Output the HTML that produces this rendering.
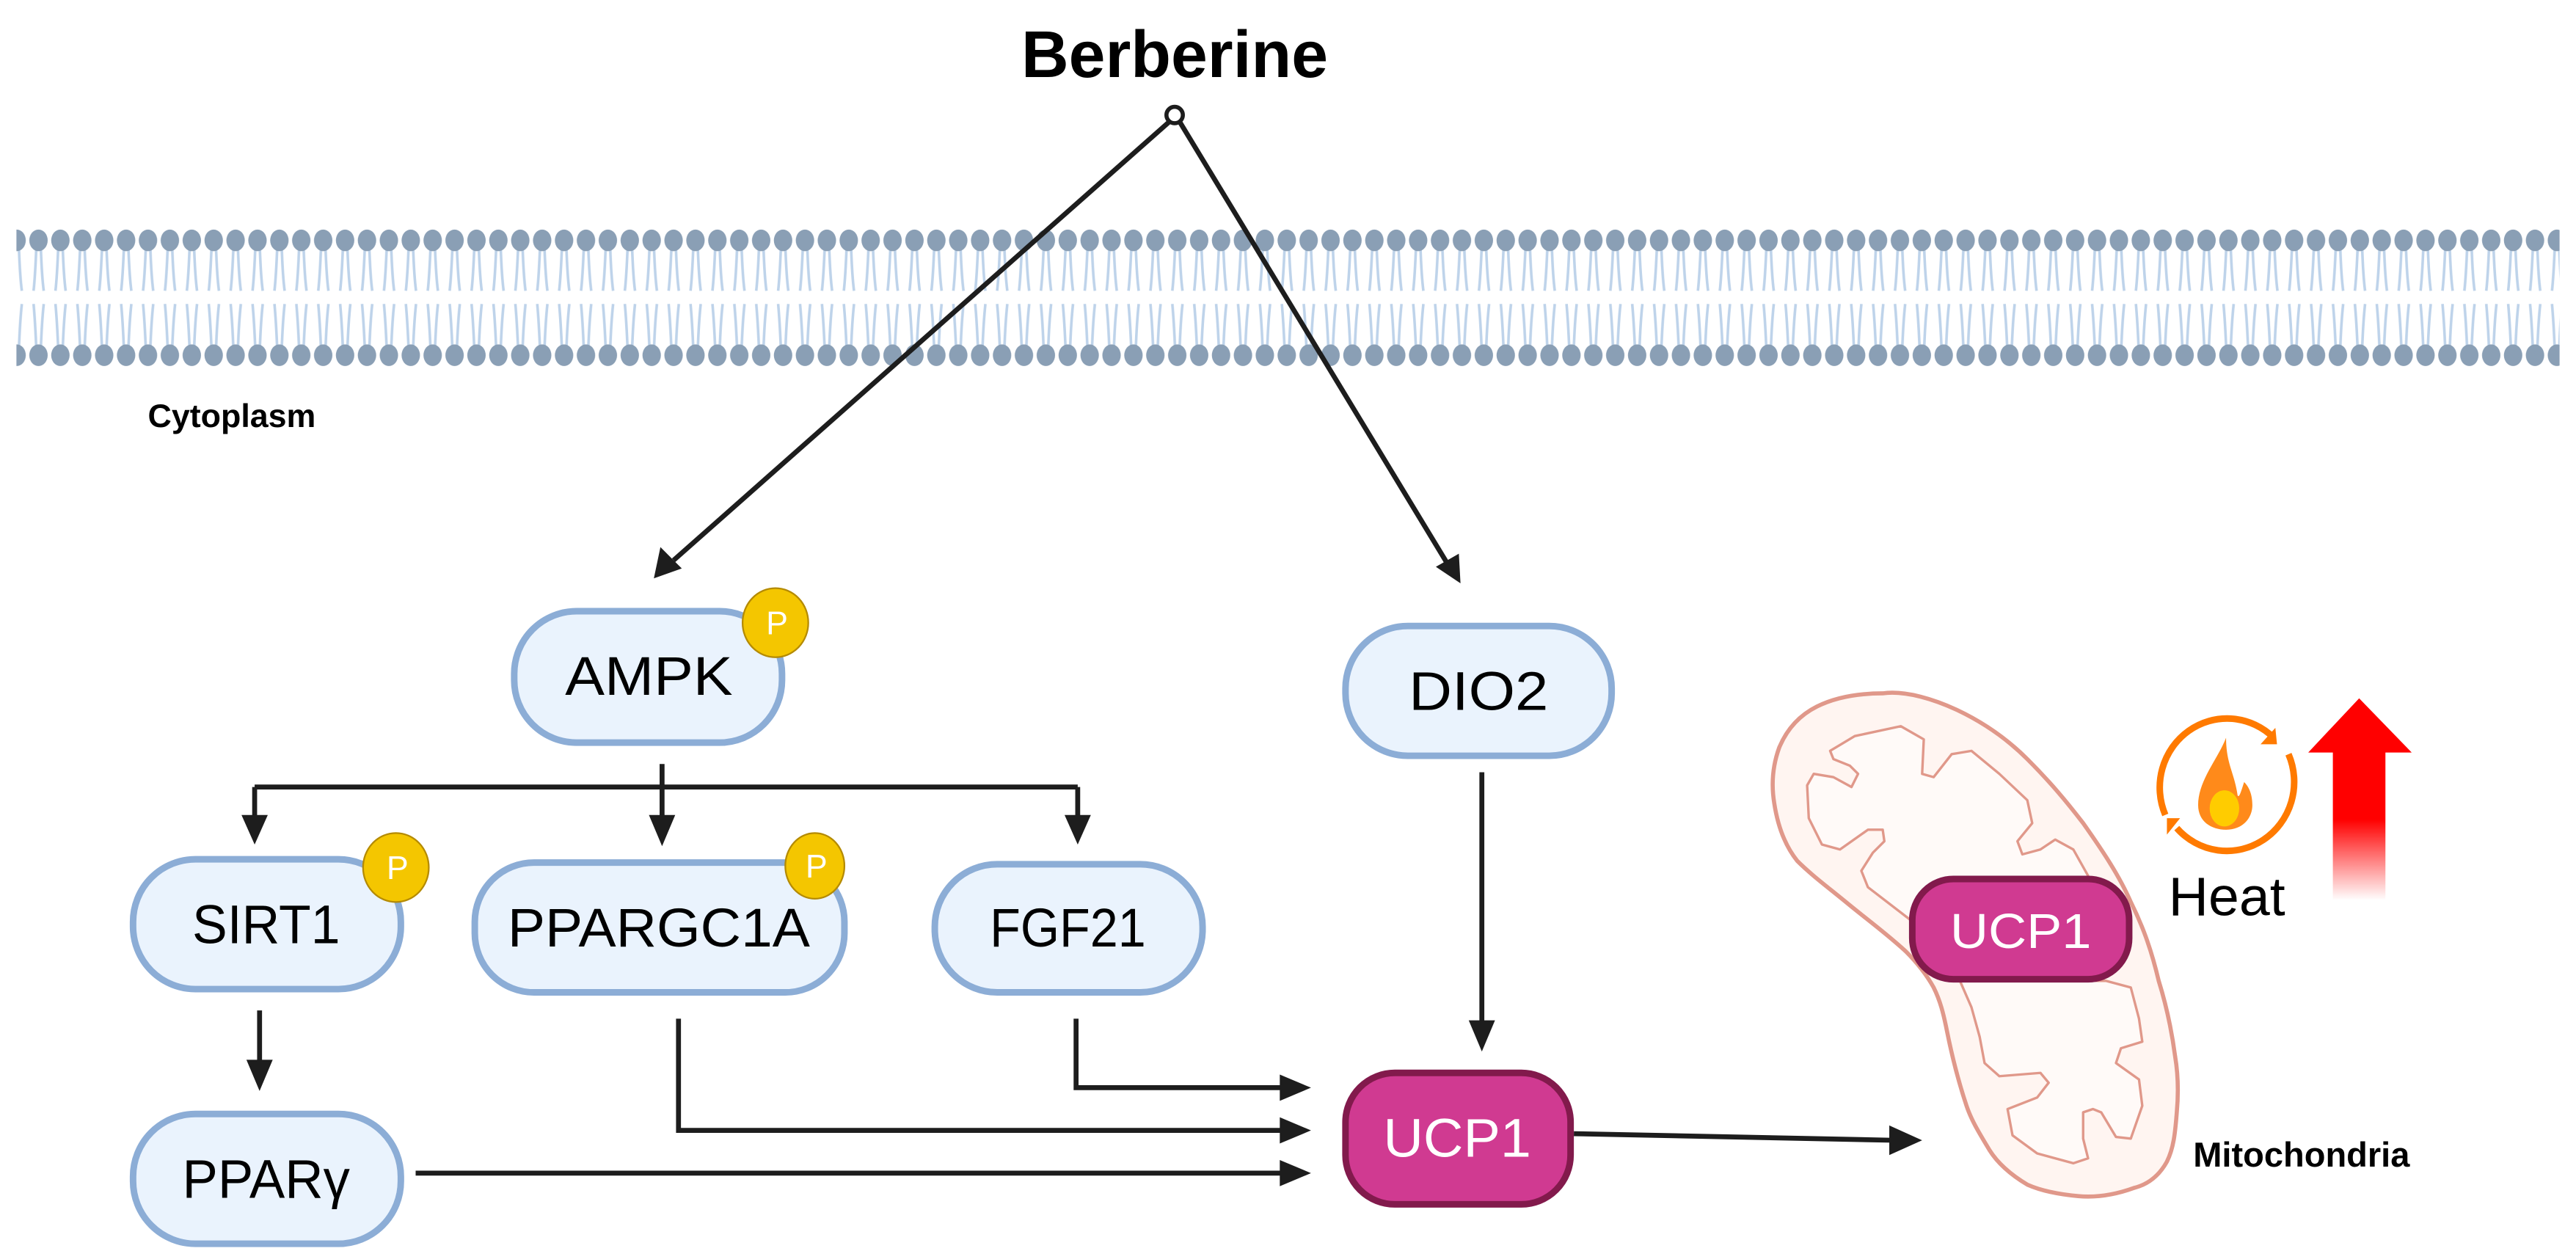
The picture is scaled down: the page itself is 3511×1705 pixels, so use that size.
<!DOCTYPE html>
<html><head><meta charset="utf-8"><style>
html,body{margin:0;padding:0;background:#fff}
svg{display:block}
text{font-family:"Liberation Sans",sans-serif}
</style></head><body>
<svg width="3511" height="1705" viewBox="0 0 1568 761.4" preserveAspectRatio="none" xmlns="http://www.w3.org/2000/svg">
<defs>
<pattern id="mem" x="3.5" y="0" width="13.33" height="761.4" patternUnits="userSpaceOnUse">
<g stroke="#bed3ea" stroke-width="1.6" fill="none">
<path d="M5.3 150 Q4.6 168 3.6 177"/><path d="M8 150 Q8.6 168 9.8 177"/>
<path d="M3.6 185 Q4.6 196 5.3 213"/><path d="M9.8 185 Q8.6 196 8 213"/>
</g>
<ellipse cx="6.6" cy="146.3" rx="5.6" ry="6.6" fill="#8a9fb5"/>
<ellipse cx="6.6" cy="216.2" rx="5.6" ry="6.6" fill="#8a9fb5"/>
</pattern>
<linearGradient id="rg" x1="0" y1="0" x2="0" y2="1">
<stop offset="0" stop-color="#ff0000"/><stop offset="0.6" stop-color="#ff0000"/><stop offset="1" stop-color="#ff0000" stop-opacity="0"/>
</linearGradient>
</defs>
<rect x="10" y="130" width="1548" height="105" fill="url(#mem)"/>

<text x="715" y="47" font-size="40" font-weight="bold" text-anchor="middle">Berberine</text>
<text x="90" y="260" font-size="20" font-weight="bold">Cytoplasm</text>

<g stroke="#1d1d1d" stroke-width="3" fill="none">
<line x1="713" y1="73" x2="410" y2="341"/>
<line x1="718" y1="74" x2="881" y2="343"/>
<line x1="403" y1="465" x2="403" y2="500"/>
<line x1="155" y1="479" x2="656" y2="479"/>
<line x1="155" y1="479" x2="155" y2="498"/>
<line x1="656" y1="479" x2="656" y2="498"/>
<line x1="158" y1="615" x2="158" y2="648"/>
<line x1="902" y1="470" x2="902" y2="624"/>
<polyline points="655,620 655,662 782,662"/>
<polyline points="413,620 413,688 782,688"/>
<line x1="253" y1="714" x2="782" y2="714"/>
<line x1="958" y1="690" x2="1152" y2="694"/>
</g>
<g fill="#1d1d1d">
<polygon points="398,352 402,333 415,346"/>
<polygon points="889,355 874,345 888,337"/>
<polygon points="395,496 411,496 403,515"/>
<polygon points="147,496 163,496 155,514"/>
<polygon points="648,496 664,496 656,514"/>
<polygon points="150,645 166,645 158,664"/>
<polygon points="894,621 910,621 902,640"/>
<polygon points="779,654 779,670 798,662"/>
<polygon points="779,680 779,696 798,688"/>
<polygon points="779,706 779,722 798,714"/>
<polygon points="1150,685 1150,703 1170,694"/>
</g>
<circle cx="715" cy="70" r="5" fill="#fff" stroke="#1d1d1d" stroke-width="2.5"/>

<g fill="#eaf3fd" stroke="#8cadd6" stroke-width="4">
<rect x="313" y="372" width="163" height="80" rx="38"/>
<rect x="819" y="381" width="162" height="79" rx="38"/>
<rect x="81" y="523" width="163" height="79" rx="38"/>
<rect x="289" y="525" width="225" height="79" rx="36"/>
<rect x="569" y="526" width="163" height="78" rx="38"/>
<rect x="81" y="678" width="163" height="79" rx="38"/>
</g>
<g fill="#d03a91" stroke="#821a4c" stroke-width="4">
<rect x="819" y="653" width="137" height="80" rx="30"/>
</g>
<g font-size="33" text-anchor="middle">
<text x="395" y="423" textLength="102" lengthAdjust="spacingAndGlyphs">AMPK</text>
<text x="900" y="432" textLength="85" lengthAdjust="spacingAndGlyphs">DIO2</text>
<text x="162" y="574" textLength="90" lengthAdjust="spacingAndGlyphs">SIRT1</text>
<text x="401" y="576" textLength="184" lengthAdjust="spacingAndGlyphs">PPARGC1A</text>
<text x="650" y="576" textLength="95" lengthAdjust="spacingAndGlyphs">FGF21</text>
<text x="162" y="729" textLength="102" lengthAdjust="spacingAndGlyphs">PPARγ</text>
<text x="887" y="704" fill="#fff" textLength="90" lengthAdjust="spacingAndGlyphs">UCP1</text>
</g>
<g fill="#f4c600" stroke="#b48a00" stroke-width="1">
<ellipse cx="472" cy="379" rx="20" ry="21"/>
<ellipse cx="241" cy="528" rx="20" ry="21"/>
<ellipse cx="496" cy="527" rx="18" ry="20"/>
</g>
<g fill="#fff" font-size="20" text-anchor="middle">
<text x="473" y="386">P</text><text x="242" y="535">P</text><text x="497" y="534">P</text>
</g>

<!-- mitochondria -->
<path d="M1146,422 C1160,420 1178,426 1191,432 C1208,440 1222,450 1234,462 C1248,476 1258,488 1268,501 C1280,518 1290,533 1297,549 C1305,565 1310,580 1314,597 C1319,613 1322,628 1324,643 C1326,655 1326,666 1325,677 C1324,690 1323,699 1319,707 C1314,716 1307,721 1299,723 C1288,727 1276,729 1265,728 C1254,727 1243,725 1234,721 C1224,715 1216,708 1211,700 C1205,690 1200,682 1197,673 C1192,658 1188,642 1185,627 C1183,617 1181,609 1177,601 C1172,592 1166,585 1160,579 C1148,568 1137,560 1126,551 C1114,541 1103,533 1094,524 C1086,514 1082,502 1080,489 C1078,477 1079,466 1083,455 C1088,443 1096,435 1106,430 C1118,424 1132,422 1146,422 Z" fill="#fff5f1" stroke="#e0988a" stroke-width="2.5"/>
<polygon points="1114,457 1129,448 1157,442 1171,450 1170,471 1177,473 1188,459 1200,457 1217,471 1234,487 1237,501 1228,512 1231,520 1242,517 1251,511 1262,517 1271,533 1268,597 1282,597 1297,601 1302,620 1304,634 1291,638 1288,647 1302,657 1304,673 1297,693 1288,692 1279,677 1274,675 1268,677 1268,693 1271,705 1262,708 1240,702 1225,691 1222,675 1240,668 1247,659 1242,653 1217,655 1208,647 1205,631 1200,613 1193,597 1163,560 1137,540 1133,530 1140,519 1147,512 1146,505 1137,505 1120,517 1109,514 1101,498 1100,478 1104,471 1116,473 1127,479 1131,471 1126,466 1116,462" fill="#fffaf8" stroke="#e0988a" stroke-width="1.5" stroke-linejoin="round"/>
<rect x="1164" y="535" width="132" height="61" rx="25" fill="#d03a91" stroke="#821a4c" stroke-width="4"/>
<text x="1230" y="577" font-size="30" fill="#fff" text-anchor="middle" textLength="86" lengthAdjust="spacingAndGlyphs">UCP1</text>
<text x="1335" y="710" font-size="21" font-weight="bold">Mitochondria</text>

<!-- heat -->
<path d="M1318,496 A41,42 0 0 1 1384,449" fill="none" stroke="#ff7a00" stroke-width="4"/>
<polygon points="1385,443 1386,453 1376,453" fill="#ff7a00"/>
<path d="M1393,459 A41,42 0 0 1 1325,504" fill="none" stroke="#ff7a00" stroke-width="4"/>
<polygon points="1322,502 1330,502 1322,512" fill="#ff7a00" transform="translate(-3,-4)"/>
<path d="M1355,449 C1350,462 1338,475 1338,490 C1338,500 1346,505 1355,505 C1365,505 1371,498 1371,490 C1371,482 1368,478 1366,476 C1364,482 1363,486 1362,484 C1360,470 1355,465 1355,449 Z" fill="#ff8a1a"/>
<ellipse cx="1354" cy="492" rx="9" ry="11" fill="#ffcc00"/>
<text x="1320" y="557" font-size="33" textLength="71" lengthAdjust="spacingAndGlyphs">Heat</text>
<polygon points="1436,425 1468,458 1452,458 1452,548 1420,548 1420,458 1405,458" fill="url(#rg)"/>
</svg>
</body></html>
